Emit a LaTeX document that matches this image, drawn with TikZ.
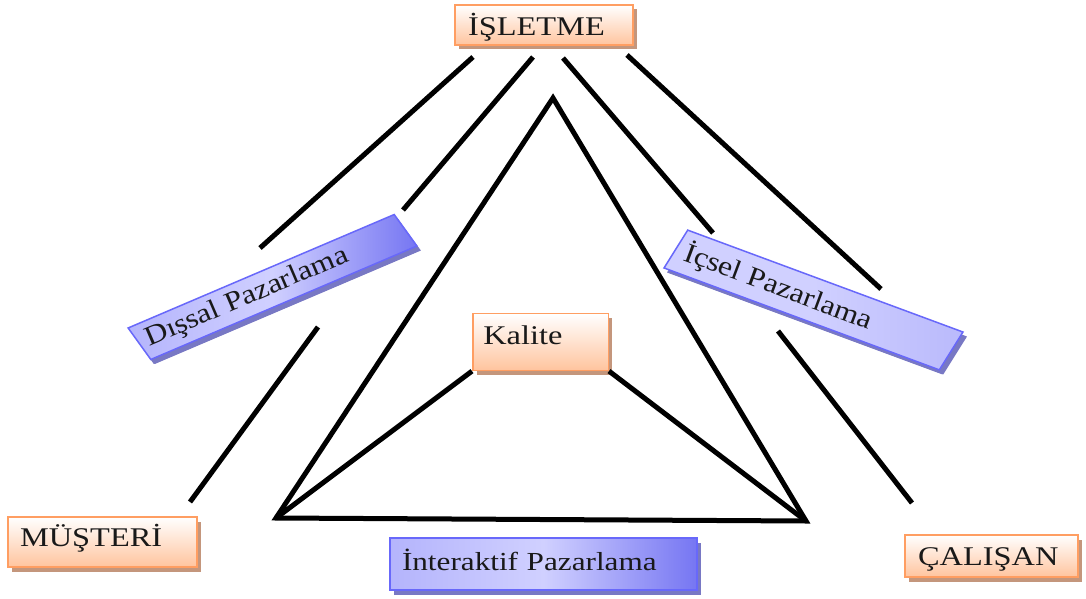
\documentclass[tikz,border=0pt]{standalone}
\usepackage{fontspec}
\setmainfont{Liberation Serif}
\newfontfamily\boxfont{Liberation Serif}[FakeStretch=1.2]
\newfontfamily\slantfont{Liberation Serif}[FakeStretch=1.15]
\usetikzlibrary{shadows}

\definecolor{orline}{RGB}{255,158,98}
\definecolor{orfill}{RGB}{255,196,158}
\definecolor{orshadow}{RGB}{196,150,124}
\definecolor{blline}{RGB}{104,104,250}
\definecolor{blsoft}{RGB}{208,208,255}
\definecolor{blmid}{RGB}{180,180,252}
\definecolor{bldeep}{RGB}{118,118,242}
\definecolor{blshadow}{RGB}{120,120,196}
\definecolor{ink}{RGB}{25,25,25}

\tikzset{
  link/.style={line width=5pt, black},
  boxbase/.style={rectangle, line width=1.5pt, text=ink, align=left, inner ysep=0pt},
  orbox/.style={boxbase, draw=orline, top color=white, bottom color=orfill,
    drop shadow={shadow xshift=4pt, shadow yshift=-4.5pt, fill=orshadow, opacity=1},
    font=\boxfont\fontsize{27}{31}\selectfont},
  blbox/.style={boxbase, draw=blline, left color=blmid, right color=bldeep, middle color=blsoft,
    drop shadow={shadow xshift=4pt, shadow yshift=-4.5pt, fill=blshadow, opacity=1},
    font=\boxfont\fontsize{26}{30}\selectfont},
  slantbox/.style={blbox, inner sep=0pt, xscale=1.3,
    drop shadow={shadow xshift=3pt, shadow yshift=-4.5pt, fill=blshadow, opacity=1}},
  slanttext/.style={text=ink, inner sep=0pt, anchor=base west, font=\slantfont\fontsize{27.5}{31}\selectfont},
}

\begin{document}
\begin{tikzpicture}[x=1pt, y=-1pt]
  \fill[white] (0,0) rectangle (1086,599);
  \useasboundingbox (0,0) rectangle (1086,599);

  % free ends of the marketing links
  \coordinate (a1) at (473,57);   \coordinate (a2) at (260,248);
  \coordinate (b1) at (533,57);   \coordinate (b2) at (403,210);
  \coordinate (b3) at (318,327);  \coordinate (b4) at (190,502);
  \coordinate (c1) at (563,58);   \coordinate (c2) at (713,233);
  \coordinate (c3) at (778,331);  \coordinate (c4) at (912,503);
  \coordinate (d1) at (627,55);   \coordinate (d2) at (881,289);

  % triangle corners
  \coordinate (top) at (553,98);
  \coordinate (bl)  at (276,518);
  \coordinate (br)  at (806,521);

  \draw[link] (a1) -- (a2);
  \draw[link] (b1) -- (b2);
  \draw[link] (b3) -- (b4);
  \draw[link] (c1) -- (c2);
  \draw[link] (c3) -- (c4);
  \draw[link] (d1) -- (d2);
  \draw[link] (top) -- (bl) -- (br) -- cycle;

  % upright boxes
  \node[orbox, text width=152pt, inner xsep=13pt, text height=31pt, text depth=9pt] (isl) at (544,25) {İŞLETME};
  \node[orbox, text width=114.5pt, inner xsep=10.5pt, text height=31pt, text depth=25.7pt] (kal) at (540.5,342) {Kalite};
  \node[orbox, text width=165pt, inner xsep=12pt, text height=29.7pt, text depth=20.3pt] (mus) at (102.5,542) {MÜŞTERİ};
  \node[orbox, text width=147pt, inner xsep=13pt, text height=30pt, text depth=12pt] (cal) at (991.5,556) {ÇALIŞAN};
  \node[blbox, text width=283pt, inner xsep=12pt, text height=32pt, text depth=20pt] (int) at (543.5,564) {İnteraktif Pazarlama};

  % tilted boxes: a rotated rectangle stretched sideways
  \begin{scope}[shift={(272.5,287)}]
    \node[slantbox, rotate=29, minimum width=234pt, minimum height=36pt] (dis) at (0,0) {};
  \end{scope}
  \begin{scope}[shift={(813.5,300)}]
    \node[slantbox, rotate=-25.7, left color=blsoft, right color=blsoft!75!bldeep, middle color=blsoft,
      minimum width=235pt, minimum height=42pt] (ics) at (0,0) {};
  \end{scope}
  \node[slanttext, rotate=23.2] (dis-t) at (149,347) {Dışsal Pazarlama};
  \node[slanttext, rotate=-20.4] (ics-t) at (682,260) {İçsel Pazarlama};

  % links from the quality box to the triangle base corners
  \draw[link] (kal.south west) -- (bl);
  \draw[link] (kal.south east) -- (br);
\end{tikzpicture}
\end{document}
